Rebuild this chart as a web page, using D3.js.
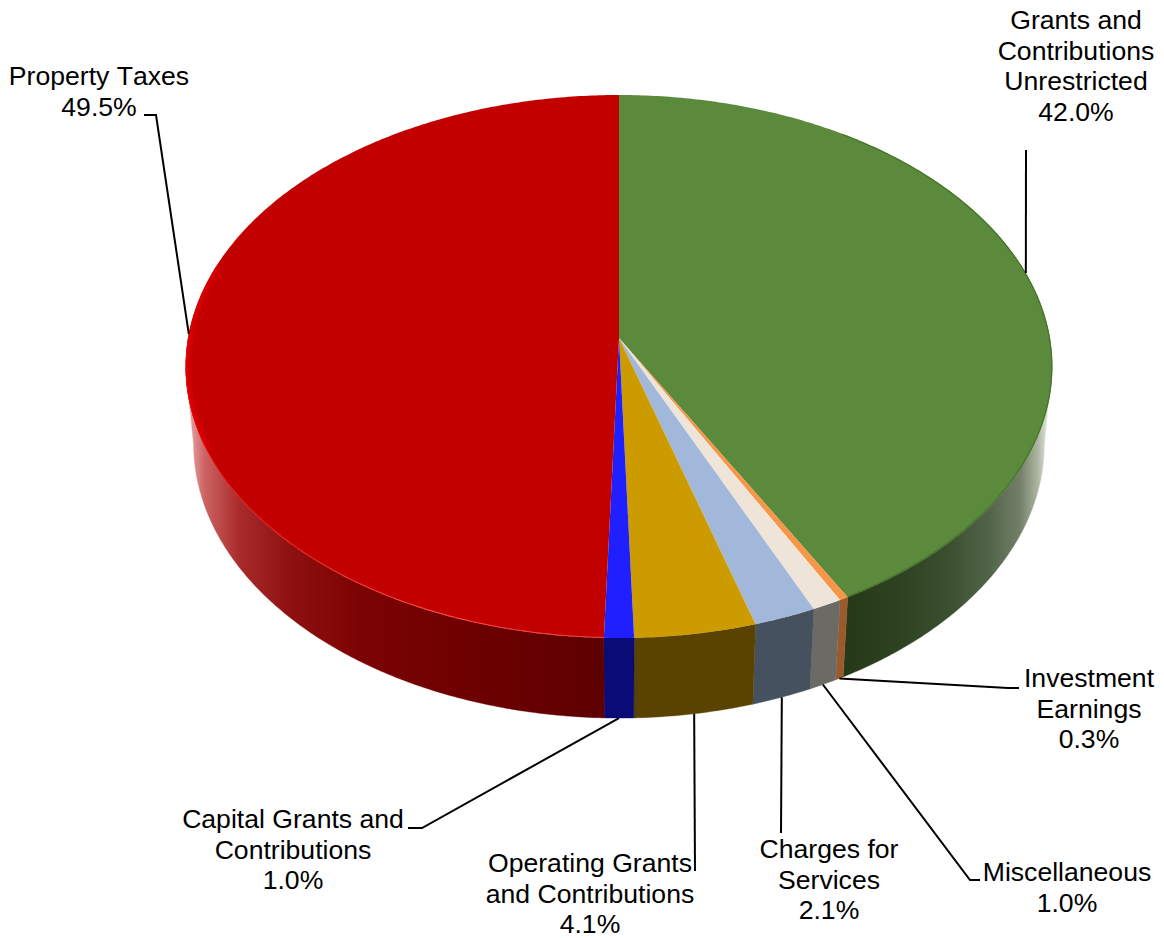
<!DOCTYPE html>
<html>
<head>
<meta charset="utf-8">
<script src="https://cdn.jsdelivr.net/npm/d3@7/dist/d3.min.js"></script>
<style>
  html, body { margin: 0; padding: 0; background: #fff; }
  svg { display: block; }
  text { font-family: "Liberation Sans", Arial, sans-serif; font-size: 26.6px; font-kerning: none; fill: #000; text-anchor: middle; }
</style>
</head>
<body>
<svg id="chart" width="1164" height="938"></svg>
<script>
// Revenue shares, clockwise from twelve o'clock
const categories = [
  "Grants and Contributions Unrestricted",
  "Investment Earnings",
  "Miscellaneous",
  "Charges for Services",
  "Operating Grants and Contributions",
  "Capital Grants and Contributions",
  "Property Taxes"
];
const shares = [42.0, 0.3, 1.0, 2.1, 4.1, 1.0, 49.5];

// Styling per slice: top face and shaded side wall
const topColors = ["#5b8a3c", "#f79646", "#eee4d8", "#a2b8da", "#cc9b00", "#1f1fff", "#c20000"];
const sideColors = ["url(#sideGreen)", "#9c5a2a", "#6c6a64", "#46515f", "#5a4300", "#0b0b78", "url(#sideRed)"];

// Label wording, one entry per line
const labelLines = [
  ["Grants and", "Contributions", "Unrestricted", "42.0%"],
  ["Investment", "Earnings", "0.3%"],
  ["Miscellaneous", "1.0%"],
  ["Charges for", "Services", "2.1%"],
  ["Operating Grants", "and Contributions", "4.1%"],
  ["Capital Grants and", "Contributions", "1.0%"],
  ["Property Taxes", "49.5%"]
];

// Label placement and leader elbows
const labelLayout = [
  { x: 1076, y: 29,  rim: 0, elbows: [[1026, 150]] },
  { x: 1089, y: 687, rim: 1, elbows: [[1008, 688], [1019, 688]] },
  { x: 1067, y: 881, rim: 1, elbows: [[970, 880], [980, 880]] },
  { x: 829,  y: 858, rim: 1, elbows: [[781, 833]] },
  { x: 590,  y: 872, rim: 1, elbows: [[695, 871]] },
  { x: 293,  y: 828, rim: 1, elbows: [[422, 828], [408, 828]] },
  { x: 99,   y: 85,  rim: 0, elbows: [[156, 115], [144, 115]] }
];
const lineStep = 30.6;

// Perspective projection of the disc: depth 0 is the top face, 1 the lower rim
const cam = { cx: 619, cy: 338, a: 431, b: 268.5, c: 78.7, k: 0.105, m: 0.0185 };
function project(theta, depth) {
  const u = Math.sin(theta), v = Math.cos(theta);
  const w = 1 + cam.k * v + cam.m * depth;
  return [cam.cx + cam.a * u / w, cam.cy + (-cam.b * v + cam.c * depth) / w];
}
const rim = (a0, a1, depth) => {
  const n = Math.max(2, Math.ceil(Math.abs(a1 - a0) / 0.01));
  return d3.range(n + 1).map(i => project(a0 + (a1 - a0) * i / n, depth));
};

const svg = d3.select("#chart");
const line = d3.line();
const slices = d3.pie().sort(null).value(d => d).startAngle(0).endAngle(2 * Math.PI)(shares);

// Gradients and soft edges
const defs = svg.append("defs");
function sideGradient(id, stops) {
  const g = defs.append("linearGradient").attr("id", id)
    .attr("gradientUnits", "userSpaceOnUse")
    .attr("x1", 186).attr("x2", 1052).attr("y1", 0).attr("y2", 0);
  stops.forEach(([x, col]) => g.append("stop").attr("offset", (x - 186) / 866).attr("stop-color", col));
}
sideGradient("sideRed", [[190, "#e6a0a0"], [205, "#cc6262"], [240, "#a92a2a"], [290, "#8f1010"], [360, "#7c0303"], [480, "#6c0000"], [604, "#5e0000"]]);
sideGradient("sideGreen", [[848, "#263a19"], [900, "#2d4220"], [950, "#3b5030"], [990, "#52654a"], [1020, "#737f68"], [1038, "#adb6a2"], [1050, "#eef1ea"]]);

const hi = defs.append("linearGradient").attr("id", "rimRed")
  .attr("gradientUnits", "userSpaceOnUse")
  .attr("x1", 186).attr("x2", 604).attr("y1", 0).attr("y2", 0);
[[0, "#e60808"], [0.2, "#f01a1a"], [0.55, "#ff5050"], [1, "#f04848"]].forEach(([o, c]) =>
  hi.append("stop").attr("offset", o).attr("stop-color", c));

defs.append("filter").attr("id", "soft").attr("x", "-5%").attr("y", "-5%").attr("width", "110%").attr("height", "110%")
  .append("feGaussianBlur").attr("stdDeviation", 0.6);
defs.append("filter").attr("id", "softer").attr("x", "-5%").attr("y", "-5%").attr("width", "110%").attr("height", "110%")
  .append("feGaussianBlur").attr("stdDeviation", 2);
defs.append("clipPath").attr("id", "faceClip").append("path")
  .attr("d", line(rim(0, 2 * Math.PI, 0)) + "Z");

// Side wall: only the front of the disc, between the two silhouette tangents
const wallFrom = Math.PI - Math.acos(cam.k), wallTo = Math.PI + Math.acos(cam.k);
svg.append("g").selectAll("path").data(slices).join("path")
  .attr("d", d => {
    const a0 = Math.max(d.startAngle, wallFrom), a1 = Math.min(d.endAngle, wallTo);
    if (a1 <= a0) return null;
    return line(rim(a0, a1, 0).concat(rim(a1, a0, 1))) + "Z";
  })
  .attr("fill", (d, i) => sideColors[i])
  .attr("stroke", (d, i) => sideColors[i])
  .attr("stroke-width", 0.4);

// Top face wedges
svg.append("g").selectAll("path").data(slices).join("path")
  .attr("d", d => line([[cam.cx, cam.cy]].concat(rim(d.startAngle, d.endAngle, 0))) + "Z")
  .attr("fill", (d, i) => topColors[i]);

// Bevel along the rim of the top face
const bevel = svg.append("g").attr("clip-path", "url(#faceClip)").attr("fill", "none");
const greenSlice = slices[0], redSlice = slices[6];
bevel.append("path")
  .attr("d", line(rim(greenSlice.startAngle + 0.6, greenSlice.endAngle, 0)))
  .attr("stroke", "#477229").attr("stroke-width", 2.4).attr("filter", "url(#soft)");
bevel.append("path")
  .attr("d", line(rim(4.3, 5.0, 0)))
  .attr("stroke", "#dc0404").attr("stroke-width", 8).attr("filter", "url(#softer)");
bevel.append("path")
  .attr("d", line(rim(redSlice.startAngle, 4.75, 0)))
  .attr("stroke", "url(#rimRed)").attr("stroke-width", 1.8).attr("filter", "url(#soft)");

// Leader lines from each slice's mid-angle to its label
const leaders = svg.append("g").attr("fill", "none").attr("stroke", "#000").attr("stroke-width", 2);
slices.forEach((d, i) => {
  const mid = (d.startAngle + d.endAngle) / 2;
  const start = project(mid, labelLayout[i].rim);
  leaders.append("path").attr("d", line([start].concat(labelLayout[i].elbows)));
});

// Labels
labelLayout.forEach((p, i) => {
  svg.append("text").selectAll("tspan").data(labelLines[i]).join("tspan")
    .attr("x", p.x).attr("y", (d, j) => p.y + j * lineStep).text(d => d);
});
</script>
</body>
</html>
